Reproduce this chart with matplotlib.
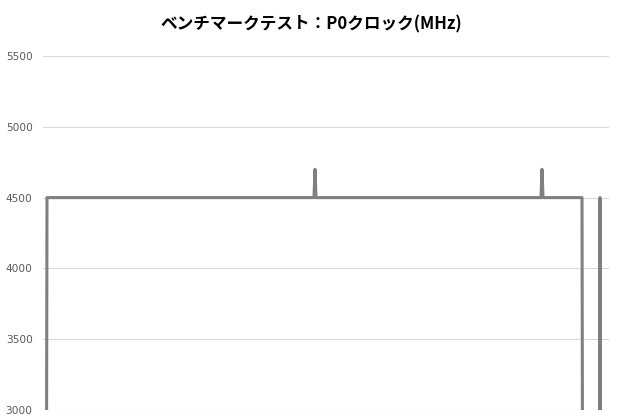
import matplotlib
matplotlib.use("Agg")
import matplotlib.pyplot as plt

# sample index vs P0 clock (MHz); only the points where the value changes
samples = [3, 4, 271, 272, 273, 498, 499, 500, 539, 540, 556, 557, 558]
clock_mhz = [800, 4500, 4500, 4700, 4500, 4500, 4700, 4500, 4500, 800, 800, 4500, 800]

y_ticks = [3000, 3500, 4000, 4500, 5000, 5500]
title = "ベンチマークテスト：P0クロック(MHz)"

plt.rcParams['font.family'] = ['Noto Sans CJK JP', 'DejaVu Sans']

fig = plt.figure(figsize=(6.2, 4.2), dpi=100)
ax = fig.add_axes([43 / 620, 1 - 410 / 420, 566 / 620, 354 / 420])

ax.plot(samples, clock_mhz, color="#7f7f7f", linewidth=2.2)

ax.set_xlim(0, 566)
ax.set_ylim(3000, 5500)
ax.set_yticks(y_ticks, labels=[str(v) for v in y_ticks],
              fontfamily='DejaVu Sans', fontsize=7.6, color="#595959")
ax.set_xticks([])
ax.grid(axis='y', color="#d9d9d9", linewidth=0.8)
ax.set_axisbelow(True)
for s in ax.spines.values():
    s.set_visible(False)
ax.tick_params(axis='y', length=0, pad=7.5)

fig.text(0.502, 1 - 24 / 420, title, ha='center', va='center',
         fontsize=12, fontweight='bold', color="#000000")

fig.savefig("out.png", dpi=100)
